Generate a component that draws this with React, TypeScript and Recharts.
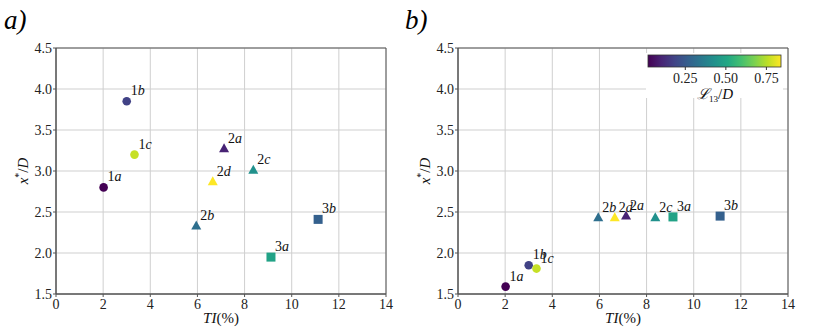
import { ReferenceArea, CartesianGrid, Scatter, ScatterChart, XAxis, YAxis } from "recharts";

// case names, digit part upright, letter part italic
const caseNums = ["1", "1", "1", "2", "2", "2", "2", "3", "3"];
const caseLetters = ["a", "b", "c", "a", "b", "c", "d", "a", "b"];
const turbIntensity = [2.02, 3.0, 3.33, 7.13, 5.95, 8.37, 6.65, 9.12, 11.12];
const xStarA = [2.8, 3.85, 3.2, 3.27, 2.33, 3.01, 2.87, 1.95, 2.41];
const xStarB = [1.59, 1.85, 1.81, 2.45, 2.43, 2.43, 2.43, 2.44, 2.45];
const lengthScale = [0.02, 0.18, 0.77, 0.1, 0.32, 0.43, 0.84, 0.49, 0.27];

const xTicks = [0, 2, 4, 6, 8, 10, 12, 14];
const yTicks = [1.5, 2.0, 2.5, 3.0, 3.5, 4.0, 4.5];
const cbarTicks = [0.25, 0.5, 0.75];
const cbarMin = 0.02;
const cbarMax = 0.84;

const viridis = ["#440154", "#482475", "#414487", "#355f8d", "#2a788e", "#21918c", "#22a884", "#44bf70", "#7ad151", "#bddf26", "#fde725"];

const hex = (c: string) => [1, 3, 5].map((i) => parseInt(c.slice(i, i + 2), 16));
const colorFor = (v: number) => {
  const t = Math.min(1, Math.max(0, (v - cbarMin) / (cbarMax - cbarMin))) * (viridis.length - 1);
  const i = Math.min(viridis.length - 2, Math.floor(t));
  const f = t - i;
  const a = hex(viridis[i]);
  const b = hex(viridis[i + 1]);
  const m = a.map((x, k) => Math.round(x + (b[k] - x) * f));
  return `rgb(${m[0]},${m[1]},${m[2]})`;
};

const FONT = "Liberation Serif, Times New Roman, serif";

const buildData = (ys: number[]) =>
  turbIntensity.map((ti, i) => ({
    ti,
    x: ys[i],
    num: caseNums[i],
    letter: caseLetters[i],
    color: colorFor(lengthScale[i]),
  }));

const Marker = (props: any) => {
  const { cx, cy, payload } = props;
  if (cx == null || cy == null) return null;
  const c = payload.color;
  let mark;
  if (payload.num === "1") {
    mark = <circle cx={cx} cy={cy} r={4.3} fill={c} />;
  } else if (payload.num === "2") {
    mark = <polygon points={`${cx},${cy - 5.5} ${cx - 5},${cy + 3.5} ${cx + 5},${cy + 3.5}`} fill={c} />;
  } else {
    mark = <rect x={cx - 4.5} y={cy - 4.5} width={9} height={9} fill={c} />;
  }
  return (
    <g>
      {mark}
      <text x={cx + 4} y={cy - 6} fontFamily={FONT} fontSize={14} fill="#111">
        {payload.num}
        <tspan fontStyle="italic">{payload.letter}</tspan>
      </text>
    </g>
  );
};

const YLabel = (props: any) => {
  const vb = props.viewBox;
  const x = vb.x + 7;
  const y = vb.y + vb.height / 2;
  return (
    <text x={x} y={y} transform={`rotate(-90 ${x} ${y})`} textAnchor="middle" dy={5} fontFamily={FONT} fontSize={15} fill="#111">
      <tspan fontStyle="italic">x</tspan>
      <tspan fontSize={10} dy={-6}>*</tspan>
      <tspan dy={6}>/</tspan>
      <tspan fontStyle="italic">D</tspan>
    </text>
  );
};

const XLabel = (props: any) => {
  const vb = props.viewBox;
  return (
    <text x={vb.x + vb.width / 2} y={323} textAnchor="middle" fontFamily={FONT} fontSize={15} fill="#111">
      <tspan fontStyle="italic">TI</tspan>
      <tspan>(%)</tspan>
    </text>
  );
};

const Panel = ({ ys, left, width, marginLeft, marginRight }: { ys: number[]; left: number; width: number; marginLeft: number; marginRight: number }) => (
  <div style={{ position: "absolute", left, top: 0 }}>
    <ScatterChart width={width} height={329} margin={{ top: 48, right: marginRight, bottom: 5, left: marginLeft }}>
      <CartesianGrid stroke="#cfcfcf" strokeWidth={1} />
      <XAxis
        type="number"
        dataKey="ti"
        domain={[0, 14]}
        ticks={xTicks}
        height={30}
        tickSize={3}
        tickMargin={2}
        axisLine={{ stroke: "#555" }}
        tickLine={{ stroke: "#555" }}
        tick={{ fontFamily: FONT, fontSize: 14, fill: "#222" }}
        label={<XLabel />}
      />
      <YAxis
        type="number"
        dataKey="x"
        domain={[1.5, 4.5]}
        ticks={yTicks}
        width={40}
        tickSize={3}
        tickMargin={1}
        tickFormatter={(v: number) => v.toFixed(1)}
        axisLine={{ stroke: "#555" }}
        tickLine={{ stroke: "#555" }}
        tick={{ fontFamily: FONT, fontSize: 14, fill: "#222" }}
        label={<YLabel />}
      />
      <ReferenceArea x1={0} x2={14} y1={1.5} y2={4.5} fill="none" stroke="#555" strokeWidth={1} />
      <Scatter data={buildData(ys)} shape={Marker} isAnimationActive={false} />
    </ScatterChart>
  </div>
);

const cbX0 = 648;
const cbX1 = 781;
const cbPos = (v: number) => cbX0 + ((v - cbarMin) / (cbarMax - cbarMin)) * (cbX1 - cbX0);

const Overlay = () => (
  <svg width={830} height={329} style={{ position: "absolute", left: 0, top: 0, pointerEvents: "none" }}>
    <defs>
      <linearGradient id="vir" x1="0" x2="1" y1="0" y2="0">
        {viridis.map((c, i) => (
          <stop key={i} offset={i / (viridis.length - 1)} stopColor={c} />
        ))}
      </linearGradient>
    </defs>
    <text x={4} y={29} fontFamily={FONT} fontSize={27} fontStyle="italic" fill="#000">a)</text>
    <text x={405} y={29} fontFamily={FONT} fontSize={27} fontStyle="italic" fill="#000">b)</text>
    <rect x={cbX0 - 2} y={53} width={cbX1 - cbX0 + 4} height={45} fill="#fff" />
    <rect x={cbX0} y={55} width={cbX1 - cbX0} height={12} fill="url(#vir)" stroke="#333" strokeWidth={0.8} />
    {cbarTicks.map((v) => (
      <g key={v}>
        <line x1={cbPos(v)} x2={cbPos(v)} y1={67} y2={70} stroke="#333" />
        <text x={cbPos(v)} y={83} textAnchor="middle" fontFamily={FONT} fontSize={14} fill="#222">
          {v.toFixed(2)}
        </text>
      </g>
    ))}
    <text x={715} y={99} textAnchor="middle" fontFamily={FONT} fontSize={15} fill="#111">
      <tspan fontStyle="italic">ℒ</tspan>
      <tspan fontSize={9} dy={3}>13</tspan>
      <tspan dy={-3}>/</tspan>
      <tspan fontStyle="italic">D</tspan>
    </text>
  </svg>
);

export default function App() {
  return (
    <div style={{ position: "absolute", left: 0, top: 0, width: 830, height: 329, background: "#fff", fontFamily: FONT }}>
      <Panel ys={xStarA} left={0} width={415} marginLeft={16} marginRight={29} />
      <Panel ys={xStarB} left={400} width={430} marginLeft={18} marginRight={42} />
      <Overlay />
    </div>
  );
}
